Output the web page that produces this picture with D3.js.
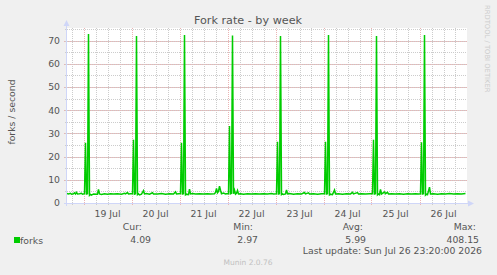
<!DOCTYPE html>
<html>
<head>
<meta charset="utf-8">
<script src="https://cdn.jsdelivr.net/npm/d3@7"></script>
<style>
  body { margin: 0; background: #f0f0f0; }
  svg { display: block; font-family: "DejaVu Sans", sans-serif; }
</style>
</head>
<body>
<svg width="497" height="275"></svg>
<script>
// fork rate samples, "day hh:mm" in July 2026 -> forks/s
const forkSamples = [
  ["18 15:45", 4.1], ["18 16:30", 3.9], ["18 17:30", 4.2], ["18 18:00", 3.8], ["18 19:00", 4.0],
  ["18 19:30", 4.4], ["18 20:00", 3.9], ["18 20:30", 4.6], ["18 21:00", 3.9], ["18 22:00", 4.0],
  ["18 23:00", 4.2], ["18 23:30", 3.8],
  ["19 00:30", 4.0], ["19 01:00", 25.9], ["19 01:30", 3.9], ["19 02:00", 4.0], ["19 02:30", 72.8],
  ["19 03:00", 3.3], ["19 03:30", 3.7], ["19 04:00", 3.4], ["19 05:00", 3.9], ["19 07:00", 3.8],
  ["19 07:30", 5.9], ["19 08:00", 3.9], ["19 09:00", 3.7], ["19 10:30", 4.0], ["19 12:00", 3.8],
  ["19 13:30", 4.0], ["19 15:00", 3.9], ["19 17:00", 4.0], ["19 19:00", 3.8], ["19 20:30", 4.2],
  ["19 21:00", 3.9], ["19 22:00", 4.5], ["19 22:30", 3.9], ["19 23:30", 4.0],
  ["20 00:30", 4.0], ["20 01:00", 27.2], ["20 01:30", 3.8], ["20 02:00", 4.0], ["20 02:30", 72.0],
  ["20 03:00", 3.6], ["20 03:30", 4.0], ["20 04:00", 3.5], ["20 05:00", 3.8], ["20 06:00", 5.3],
  ["20 06:30", 3.9], ["20 07:30", 4.1], ["20 09:00", 3.8], ["20 10:30", 4.4], ["20 11:00", 3.9],
  ["20 13:00", 3.9], ["20 15:00", 4.1], ["20 17:00", 3.8], ["20 19:00", 4.0], ["20 21:00", 3.9],
  ["20 22:00", 4.8], ["20 22:30", 3.9], ["20 23:30", 4.0],
  ["21 00:30", 4.1], ["21 01:00", 26.0], ["21 01:30", 3.9], ["21 02:00", 4.0], ["21 02:30", 72.4],
  ["21 03:00", 3.5], ["21 03:30", 3.8], ["21 04:30", 3.6], ["21 05:00", 6.0], ["21 05:30", 3.9],
  ["21 06:30", 4.1], ["21 08:00", 3.9], ["21 10:00", 4.0], ["21 12:00", 3.9], ["21 14:00", 4.0],
  ["21 15:30", 3.9], ["21 17:30", 4.0], ["21 18:00", 4.6], ["21 18:30", 6.3], ["21 19:00", 4.4],
  ["21 19:30", 5.0], ["21 20:00", 7.3], ["21 20:30", 5.5], ["21 21:00", 4.0], ["21 22:00", 4.3],
  ["21 23:00", 3.9], ["21 23:30", 4.0],
  ["22 00:30", 4.0], ["22 01:00", 33.2], ["22 01:30", 4.0], ["22 02:00", 4.2], ["22 02:30", 72.2],
  ["22 03:00", 4.0], ["22 03:30", 5.5], ["22 04:00", 3.8], ["22 04:30", 4.2], ["22 05:00", 5.4],
  ["22 05:30", 3.9], ["22 06:30", 4.0], ["22 08:00", 3.8], ["22 10:00", 4.0], ["22 12:00", 3.9],
  ["22 14:00", 4.0], ["22 16:00", 3.9], ["22 18:00", 4.0], ["22 20:00", 3.9], ["22 22:00", 4.1],
  ["22 23:00", 3.9],
  ["23 00:30", 4.0], ["23 01:00", 26.4], ["23 01:30", 3.9], ["23 02:00", 4.0], ["23 02:30", 72.0],
  ["23 03:00", 3.6], ["23 03:30", 3.9], ["23 04:00", 3.7], ["23 05:00", 3.9], ["23 05:30", 5.6],
  ["23 06:00", 3.9], ["23 07:00", 4.1], ["23 09:00", 3.8], ["23 11:00", 4.0], ["23 13:00", 3.9],
  ["23 14:30", 4.5], ["23 15:00", 3.9], ["23 16:30", 4.4], ["23 17:00", 3.9], ["23 19:00", 4.0],
  ["23 21:00", 3.8], ["23 23:00", 4.0],
  ["24 00:30", 4.0], ["24 01:00", 26.4], ["24 01:30", 3.9], ["24 02:00", 4.0], ["24 02:30", 72.4],
  ["24 03:00", 3.5], ["24 03:30", 3.8], ["24 04:30", 3.6], ["24 05:30", 5.6], ["24 06:00", 3.9],
  ["24 07:30", 4.0], ["24 09:30", 3.8], ["24 11:30", 4.0], ["24 13:30", 3.9], ["24 14:30", 4.6],
  ["24 15:00", 3.9], ["24 17:00", 4.5], ["24 17:30", 3.9], ["24 19:00", 4.0], ["24 21:00", 3.9],
  ["24 23:00", 4.0],
  ["25 00:30", 4.0], ["25 01:00", 27.2], ["25 01:30", 3.9], ["25 02:00", 4.0], ["25 02:30", 72.0],
  ["25 03:00", 3.5], ["25 03:30", 3.9], ["25 04:00", 3.6], ["25 04:30", 5.9], ["25 05:00", 3.9],
  ["25 06:30", 4.7], ["25 07:00", 4.0], ["25 08:00", 4.6], ["25 08:30", 3.9], ["25 10:00", 4.0],
  ["25 12:00", 3.9], ["25 14:00", 4.0], ["25 16:00", 3.8], ["25 18:00", 4.0], ["25 20:00", 3.9],
  ["25 22:00", 4.0], ["25 23:30", 3.9],
  ["26 00:30", 4.0], ["26 01:00", 26.2], ["26 01:30", 3.9], ["26 02:00", 4.0], ["26 02:30", 72.4],
  ["26 03:00", 3.4], ["26 03:30", 3.8], ["26 04:00", 3.6], ["26 05:00", 6.8], ["26 05:30", 3.9],
  ["26 07:00", 4.0], ["26 09:00", 3.8], ["26 11:00", 4.0], ["26 13:00", 3.9], ["26 15:00", 4.1],
  ["26 17:00", 3.9], ["26 19:00", 4.0], ["26 21:00", 3.9], ["26 23:00", 4.09]
];

const yTicks = [0, 10, 20, 30, 40, 50, 60, 70];
const dayLabels = ["19 Jul", "20 Jul", "21 Jul", "22 Jul", "23 Jul", "24 Jul", "25 Jul", "26 Jul"];
const legendHeads = ["Cur:", "Min:", "Avg:", "Max:"];
const legendValues = ["4.09", "2.97", "5.99", "408.15"];

const parseSample = s => {
  const [d, hm] = s.split(" ");
  const [h, m] = hm.split(":");
  return new Date(2026, 6, +d, +h, +m);
};
const data = forkSamples.map(([t, v]) => ({ t: parseSample(t), v }));

const svg = d3.select("svg");
const plotLeft = 67, plotRight = 467, plotTop = 28, plotBottom = 203;
const fontColor = "#555";
const axisColor = "#cfd6f8";
const minorColor = "#cccccc";
const majorColor = "#eab4b4";

const x = d3.scaleTime()
  .domain([new Date(2026, 6, 18, 15, 45), new Date(2026, 6, 26, 23, 45)])
  .range([plotLeft, plotRight]);
const y = d3.scaleLinear().domain([0, 75.4]).range([plotBottom, plotTop]);

// plot canvas
svg.append("rect").attr("x", plotLeft).attr("y", plotTop)
  .attr("width", plotRight - plotLeft).attr("height", plotBottom - plotTop).attr("fill", "#fff");

const px = v => Math.round(v) + 0.5;

// grid: minor first, then major
const grid = svg.append("g");
const minorTimes = d3.timeHour.every(6).range(x.domain()[0], x.domain()[1]);
const dayTimes = d3.timeDay.range(x.domain()[0], x.domain()[1]);
grid.selectAll(".vminor").data(minorTimes).join("line")
  .attr("x1", d => px(x(d))).attr("x2", d => px(x(d)))
  .attr("y1", plotTop).attr("y2", plotBottom + 2)
  .attr("stroke", minorColor).attr("stroke-dasharray", "1,1");
grid.selectAll(".hminor").data(d3.range(5, 76, 5)).join("line")
  .attr("x1", plotLeft - 2).attr("x2", plotRight)
  .attr("y1", d => px(y(d))).attr("y2", d => px(y(d)))
  .attr("stroke", minorColor).attr("stroke-dasharray", "1,1");
grid.selectAll(".vmajor").data(dayTimes).join("line")
  .attr("x1", d => px(x(d))).attr("x2", d => px(x(d)))
  .attr("y1", plotTop).attr("y2", plotBottom + 3)
  .attr("stroke", majorColor).attr("stroke-dasharray", "1,1");
grid.selectAll(".hmajor").data(yTicks.slice(1)).join("line")
  .attr("x1", plotLeft - 3).attr("x2", plotRight)
  .attr("y1", d => px(y(d))).attr("y2", d => px(y(d)))
  .attr("stroke", majorColor).attr("stroke-dasharray", "1,1");

// series line
svg.append("path").datum(data)
  .attr("fill", "none").attr("stroke", "#00cc00").attr("stroke-width", 1.5)
  .attr("d", d3.line().x(d => x(d.t)).y(d => y(d.v)));

// axes with arrows
svg.append("line").attr("x1", plotLeft - 0.5).attr("x2", plotLeft - 0.5)
  .attr("y1", plotBottom + 3).attr("y2", plotTop - 4).attr("stroke", axisColor);
svg.append("line").attr("x1", plotLeft - 3).attr("x2", plotRight + 3)
  .attr("y1", plotBottom + 0.5).attr("y2", plotBottom + 0.5).attr("stroke", axisColor);
svg.append("path").attr("fill", axisColor)
  .attr("d", `M${plotLeft - 3.5},${plotTop - 2}L${plotLeft - 0.5},${plotTop - 8}L${plotLeft + 2.5},${plotTop - 2}Z`);
svg.append("path").attr("fill", axisColor)
  .attr("d", `M${plotRight + 1},${plotBottom - 2.5}L${plotRight + 7},${plotBottom + 0.5}L${plotRight + 1},${plotBottom + 3.5}Z`);

// y tick labels
svg.append("g").selectAll("text").data(yTicks).join("text")
  .attr("x", plotLeft - 7).attr("y", d => y(d)).attr("dy", "0.36em")
  .attr("text-anchor", "end").attr("font-size", 9.3).attr("fill", fontColor)
  .text(d => d);

// x labels at noon of each day
const noonTimes = dayTimes.map(d => d3.timeHour.offset(d, 12)).filter(d => d < x.domain()[1]);
svg.append("g").selectAll("text").data(noonTimes).join("text")
  .attr("x", d => x(d)).attr("y", 217)
  .attr("text-anchor", "middle").attr("font-size", 9.3).attr("fill", fontColor)
  .text((d, i) => dayLabels[i]);

// title, axis label, watermark
svg.append("text").attr("x", 248).attr("y", 23.5).attr("text-anchor", "middle")
  .attr("font-size", 11.2).attr("fill", fontColor).text("Fork rate - by week");
svg.append("text").attr("transform", "translate(15,112) rotate(-90)")
  .attr("text-anchor", "middle").attr("font-size", 9.3).attr("fill", fontColor)
  .text("forks / second");
svg.append("text").attr("transform", "translate(485,5) rotate(90)")
  .attr("font-size", 6.8).attr("fill", "#cccccc").text("RRDTOOL / TOBI OETIKER");

// legend
svg.append("rect").attr("x", 14).attr("y", 237).attr("width", 6).attr("height", 6)
  .attr("fill", "#00cc00");
svg.append("text").attr("x", 20).attr("y", 243.5).attr("font-size", 9.3)
  .attr("fill", fontColor).text("forks");
const headX = [142, 253, 363, 476];
const valX = [151, 258, 366, 479];
svg.append("g").selectAll("text").data(legendHeads).join("text")
  .attr("x", (d, i) => headX[i]).attr("y", 230).attr("text-anchor", "end")
  .attr("font-size", 9.3).attr("fill", fontColor).text(d => d);
svg.append("g").selectAll("text").data(legendValues).join("text")
  .attr("x", (d, i) => valX[i]).attr("y", 243).attr("text-anchor", "end")
  .attr("font-size", 9.3).attr("fill", fontColor).text(d => d);
svg.append("text").attr("x", 482).attr("y", 253.5).attr("text-anchor", "end")
  .attr("font-size", 9.3).attr("fill", fontColor).text("Last update: Sun Jul 26 23:20:00 2026");
svg.append("text").attr("x", 248).attr("y", 265).attr("text-anchor", "middle")
  .attr("font-size", 7.5).attr("fill", "#c0c0c0").text("Munin 2.0.76");
</script>
</body>
</html>
